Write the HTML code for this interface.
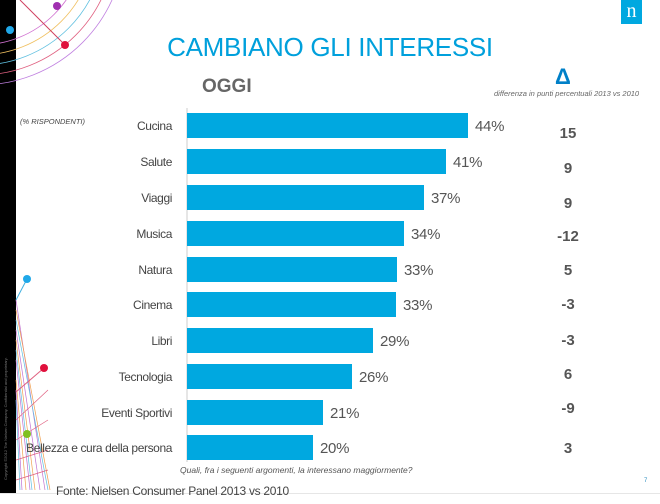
<!DOCTYPE html>
<html><head><style>
body{margin:0;width:660px;height:504px;overflow:hidden;background:#fff;position:relative;font-family:"Liberation Sans",sans-serif}
.a{position:absolute;white-space:nowrap}
.lab{font-size:12px;letter-spacing:-0.4px;color:#444;text-align:right;right:488px}
.bar{position:absolute;left:187px;height:25px;background:#00a8e0}
.pct{font-size:15px;color:#555;letter-spacing:-0.3px}
.d{font-size:15px;font-weight:bold;color:#555;text-align:center;width:40px;left:548px}
</style></head><body>
<div class="a" style="left:0;top:0;width:16px;height:493px;background:#000"></div>
<div class="a" style="left:0;top:493px;width:660px;height:1px;background:#e6e6e6"></div>
<div class="a" style="transform:rotate(-90deg);transform-origin:left top;font-size:4px;color:#777;top:480px;left:3px">Copyright ©2012 The Nielsen Company. Confidential and proprietary.</div>
<svg class="a" style="left:0;top:0" width="660" height="504">
<g fill="none" stroke-width="0.8">
<circle cx="-20" cy="-60" r="105" stroke="#d070d0"/><circle cx="-20" cy="-60" r="115" stroke="#f0c060"/>
<circle cx="-20" cy="-60" r="125" stroke="#60c0e0"/><circle cx="-20" cy="-60" r="135" stroke="#e06080"/>
<circle cx="-20" cy="-60" r="145" stroke="#c080e0"/>
</g>
<line x1="20" y1="0" x2="65" y2="45" stroke="#d04060"/><circle cx="65" cy="45" r="4" fill="#e0103c"/>
<circle cx="57" cy="6" r="4" fill="#a030b0"/><circle cx="10" cy="30" r="4" fill="#20a8e8"/>
<g stroke-width="0.7" fill="none">
<path d="M16 300 L45 490 M16 330 L40 490 M16 360 L30 490 M16 390 L22 490" stroke="#c070d0"/>
<path d="M16 310 L50 490 M16 340 L35 490 M16 380 L26 490" stroke="#f0a050"/>
<path d="M16 320 L48 490 M16 350 L32 490 M16 400 L20 490" stroke="#60c0e0"/>
<path d="M16 420 L48 390 M16 440 L48 420 M16 460 L48 450 M16 480 L48 470" stroke="#e06080"/>
</g>
<line x1="16" y1="300" x2="27" y2="279" stroke="#40b0e0"/><circle cx="27" cy="279" r="4" fill="#20a8e8"/>
<line x1="16" y1="392" x2="44" y2="368" stroke="#e06080"/><circle cx="44" cy="368" r="4" fill="#e0103c"/>
<circle cx="27" cy="434" r="4" fill="#80c020"/>
<line x1="187" y1="108" x2="187" y2="462" stroke="#ccc"/>
</svg>
<div class="a" style="left:621px;top:0;width:21px;height:24px;background:#00a8e0;color:#fff;font-family:'Liberation Serif',serif;font-size:20px;text-align:center;line-height:22px">n</div>
<div class="a" style="left:0;width:660px;top:32px;text-align:center;font-size:26px;letter-spacing:-0.3px;color:#00a0dc">CAMBIANO GLI INTERESSI</div>
<div class="a" style="left:202px;top:76px;font-size:19px;font-weight:bold;color:#666">OGGI</div>
<div class="a" style="left:555px;top:64px;font-size:22px;font-weight:bold;color:#0080c8">Δ</div>
<div class="a" style="left:494px;top:89px;font-size:7.5px;font-style:italic;color:#666">differenza in punti percentuali 2013 vs 2010</div>
<div class="a" style="left:20px;top:117px;font-size:7.5px;font-style:italic;color:#444">(% RISPONDENTI)</div>

<div class="a lab" style="top:119px">Cucina</div><div class="bar" style="top:113px;width:281px"></div><div class="a pct" style="left:475px;top:118px">44%</div><div class="a d" style="top:125px">15</div>
<div class="a lab" style="top:155px">Salute</div><div class="bar" style="top:149px;width:259px"></div><div class="a pct" style="left:453px;top:154px">41%</div><div class="a d" style="top:160px">9</div>
<div class="a lab" style="top:191px">Viaggi</div><div class="bar" style="top:185px;width:237px"></div><div class="a pct" style="left:431px;top:190px">37%</div><div class="a d" style="top:195px">9</div>
<div class="a lab" style="top:227px">Musica</div><div class="bar" style="top:221px;width:217px"></div><div class="a pct" style="left:411px;top:226px">34%</div><div class="a d" style="top:228px">-12</div>
<div class="a lab" style="top:263px">Natura</div><div class="bar" style="top:257px;width:210px"></div><div class="a pct" style="left:404px;top:262px">33%</div><div class="a d" style="top:262px">5</div>
<div class="a lab" style="top:298px">Cinema</div><div class="bar" style="top:292px;width:209px"></div><div class="a pct" style="left:403px;top:297px">33%</div><div class="a d" style="top:296px">-3</div>
<div class="a lab" style="top:334px">Libri</div><div class="bar" style="top:328px;width:186px"></div><div class="a pct" style="left:380px;top:333px">29%</div><div class="a d" style="top:332px">-3</div>
<div class="a lab" style="top:370px">Tecnologia</div><div class="bar" style="top:364px;width:165px"></div><div class="a pct" style="left:359px;top:369px">26%</div><div class="a d" style="top:366px">6</div>
<div class="a lab" style="top:406px">Eventi Sportivi</div><div class="bar" style="top:400px;width:136px"></div><div class="a pct" style="left:330px;top:405px">21%</div><div class="a d" style="top:400px">-9</div>
<div class="a lab" style="top:441px">Bellezza e cura della persona</div><div class="bar" style="top:435px;width:126px"></div><div class="a pct" style="left:320px;top:440px">20%</div><div class="a d" style="top:440px">3</div>

<div class="a" style="left:180px;top:465px;font-size:8.5px;font-style:italic;color:#555">Quali, fra i seguenti argomenti, la interessano maggiormente?</div>
<div class="a" style="left:56px;top:484px;font-size:12px;letter-spacing:-0.3px;color:#444">Fonte: Nielsen Consumer Panel 2013 vs 2010</div>
<div class="a" style="left:644px;top:478px;font-size:6px;color:#3090c0">7</div>
</body></html>
